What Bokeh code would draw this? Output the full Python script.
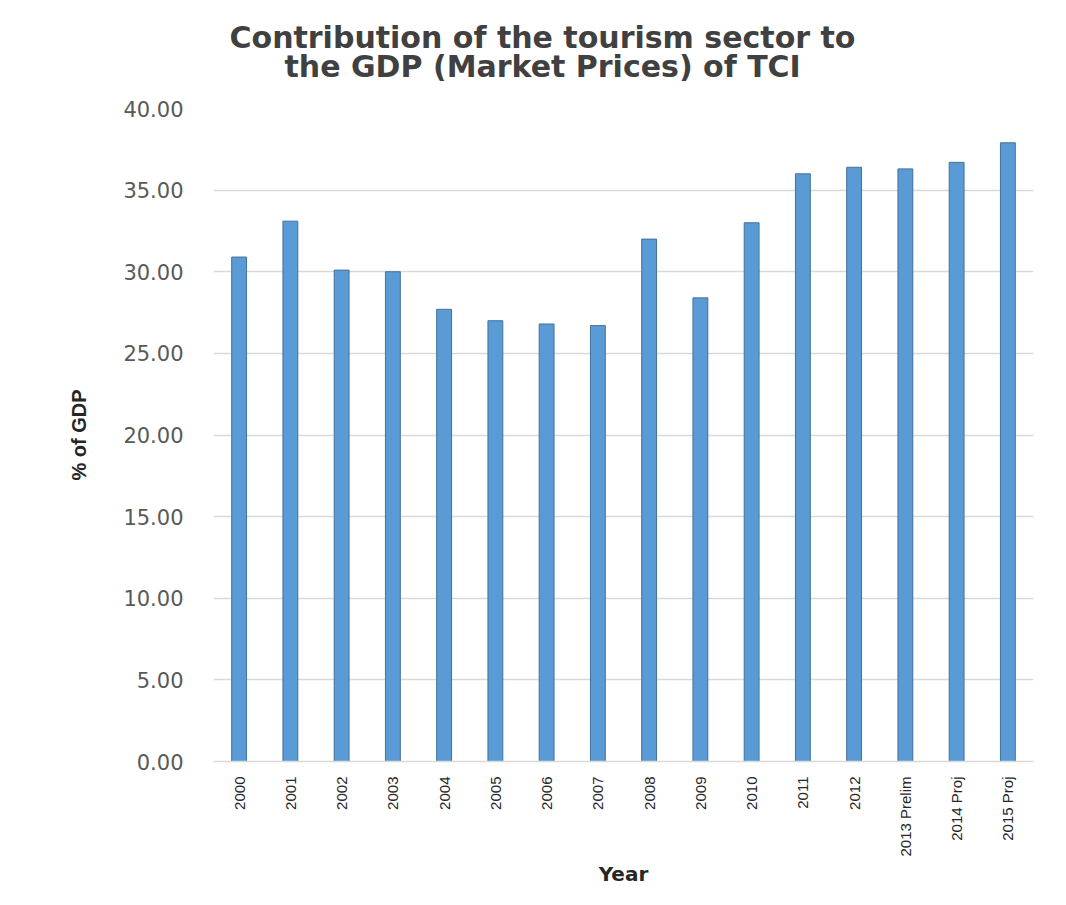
import math
from bokeh.plotting import figure
from bokeh.models import Title, FixedTicker, NumeralTickFormatter, Range1d
from bokeh.embed import file_html
from bokeh.resources import INLINE

# ---- data ----
categories = ["2000", "2001", "2002", "2003", "2004", "2005", "2006", "2007",
              "2008", "2009", "2010", "2011", "2012", "2013 Prelim",
              "2014 Proj", "2015 Proj"]
values = [30.9, 33.1, 30.1, 30.0, 27.7, 27.0, 26.8, 26.7,
          32.0, 28.4, 33.0, 36.0, 36.4, 36.3, 36.7, 37.9]
y_ticks = [0, 5, 10, 15, 20, 25, 30, 35, 40]
title_lines = ["Contribution of the tourism sector to",
               "the GDP (Market Prices) of TCI"]
x_label = "Year"
y_label = "% of GDP"

p = figure(x_range=categories, y_range=Range1d(0, 40),
           width=1066, height=905, output_backend="svg", toolbar_location=None,
           min_border_left=213, min_border_right=33,
           min_border_top=108, min_border_bottom=144)

p.vbar(x=categories, top=values, width=0.29,
       fill_color="#5B9BD5", line_color="#41719C", line_width=1)

p.outline_line_color = None
p.background_fill_color = "white"
p.border_fill_color = "white"

p.xgrid.grid_line_color = None
p.ygrid.grid_line_color = "#d9d9d9"
p.ygrid.grid_line_width = 1.5
p.ygrid.ticker = FixedTicker(ticks=y_ticks)

# y axis
p.yaxis.ticker = FixedTicker(ticks=y_ticks)
p.yaxis.formatter = NumeralTickFormatter(format="0.00")
p.yaxis.axis_line_color = None
p.yaxis.major_tick_line_color = None
p.yaxis.minor_tick_line_color = None
p.yaxis.major_label_standoff = 24
p.yaxis.major_label_text_font = "DejaVu Sans"
p.yaxis.major_label_text_font_size = "21px"
p.yaxis.major_label_text_color = "#595959"
p.yaxis.axis_label = y_label
p.yaxis.axis_label_text_font = "Liberation Sans"
p.yaxis.axis_label_text_font_style = "bold"
p.yaxis.axis_label_text_font_size = "20px"
p.yaxis.axis_label_text_color = "#262626"
p.yaxis.axis_label_standoff = 30

# x axis
p.xaxis.axis_line_color = "#d9d9d9"
p.xaxis.axis_line_width = 1.5
p.xaxis.major_tick_line_color = None
p.xaxis.minor_tick_line_color = None
p.xaxis.major_label_orientation = math.pi / 2
p.xaxis.major_label_standoff = 9
p.xaxis.major_label_text_font = "Liberation Sans"
p.xaxis.major_label_text_font_size = "15px"
p.xaxis.major_label_text_color = "#262626"
p.xaxis.axis_label = x_label
p.xaxis.axis_label_text_font = "DejaVu Sans"
p.xaxis.axis_label_text_font_style = "bold"
p.xaxis.axis_label_text_font_size = "20px"
p.xaxis.axis_label_text_color = "#262626"
p.xaxis.axis_label_standoff = 2

# title: two centred lines (second line is added first, closest to the plot)
for line, standoff, offset in zip(reversed(title_lines), [49, -65], [71, 16]):
    p.add_layout(Title(text=line, align="left", offset=offset, standoff=standoff,
                       text_font="DejaVu Sans", text_font_style="bold",
                       text_font_size="30px", text_color="#404040"), "above")

open("out.html", "w").write(file_html(p, INLINE))
